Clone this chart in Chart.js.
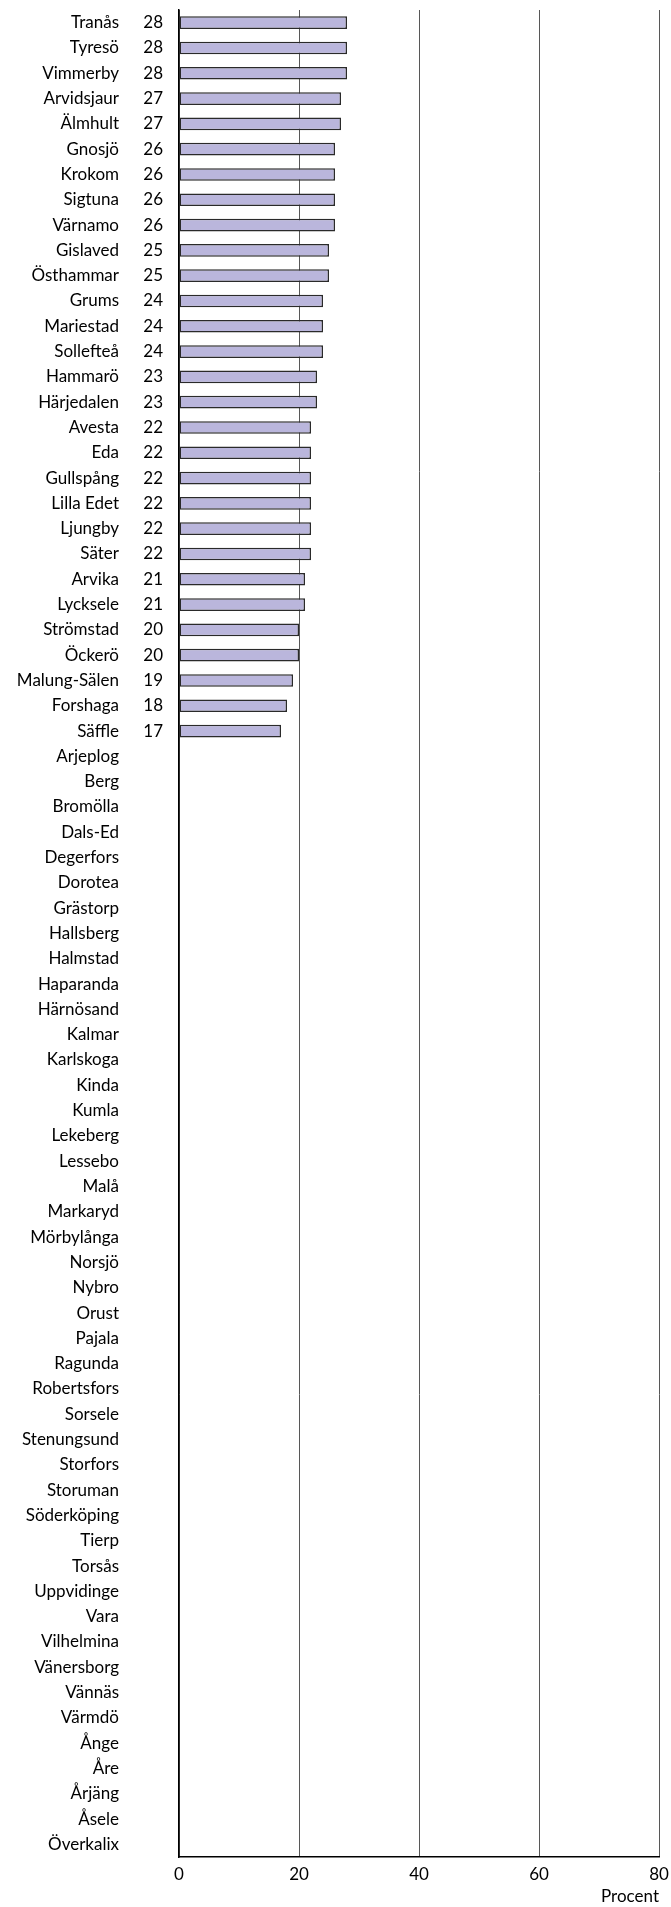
<!DOCTYPE html>
<html>
<head>
<meta charset="utf-8">
<script src="https://cdn.jsdelivr.net/npm/chart.js@4"></script>
<style>
html,body{margin:0;padding:0;background:#fff;}
#wrap{width:671px;height:1907px;}
</style>
</head>
<body>
<div id="wrap"><canvas id="c" width="671" height="1907"></canvas></div>
<script>
const categories = ["Tranås","Tyresö","Vimmerby","Arvidsjaur","Älmhult","Gnosjö","Krokom","Sigtuna","Värnamo","Gislaved","Östhammar","Grums","Mariestad","Sollefteå","Hammarö","Härjedalen","Avesta","Eda","Gullspång","Lilla Edet","Ljungby","Säter","Arvika","Lycksele","Strömstad","Öckerö","Malung-Sälen","Forshaga","Säffle","Arjeplog","Berg","Bromölla","Dals-Ed","Degerfors","Dorotea","Grästorp","Hallsberg","Halmstad","Haparanda","Härnösand","Kalmar","Karlskoga","Kinda","Kumla","Lekeberg","Lessebo","Malå","Markaryd","Mörbylånga","Norsjö","Nybro","Orust","Pajala","Ragunda","Robertsfors","Sorsele","Stenungsund","Storfors","Storuman","Söderköping","Tierp","Torsås","Uppvidinge","Vara","Vilhelmina","Vänersborg","Vännäs","Värmdö","Ånge","Åre","Årjäng","Åsele","Överkalix"];
const values = [28,28,28,27,27,26,26,26,26,25,25,24,24,24,23,23,22,22,22,22,22,22,21,21,20,20,19,18,17,
  null,null,null,null,null,null,null,null,null,null,null,null,null,null,null,null,null,null,null,null,null,null,null,null,null,null,null,null,null,null,null,null,null,null,null,null,null,null,null,null,null,null,null,null];
const xTicks = [0,20,40,60,80];
const axisTitle = "Procent";

const FONT = "Lato, 'Open Sans', sans-serif";
const FSIZE = 17;

const valueLabelPlugin = {
  id: 'valueLabels',
  afterDraw(chart) {
    const ctx = chart.ctx;
    const y = chart.scales.y;
    ctx.save();
    ctx.font = FSIZE + "px " + FONT;
    ctx.fillStyle = "#000";
    ctx.textAlign = "right";
    ctx.textBaseline = "middle";
    values.forEach((v, i) => {
      if (v === null || v === undefined) return;
      ctx.fillText(String(v), 163, y.getPixelForValue(i));
    });
    ctx.restore();
  }
};

new Chart(document.getElementById('c'), {
  type: 'bar',
  data: {
    labels: categories,
    datasets: [{
      data: values,
      backgroundColor: '#bab6dc',
      borderColor: '#2a2a2a',
      borderWidth: 1.5,
      borderSkipped: false,
      barPercentage: 0.5,
      categoryPercentage: 1.0
    }]
  },
  options: {
    indexAxis: 'y',
    responsive: false,
    animation: false,
    devicePixelRatio: 1,
    layout: { padding: { top: 10, right: 12, left: 0, bottom: 0 } },
    plugins: { legend: { display: false }, tooltip: { enabled: false } },
    scales: {
      x: {
        type: 'linear',
        min: 0, max: 80,
        afterBuildTicks(scale) { scale.ticks = xTicks.map(v => ({ value: v })); },
        ticks: { font: { size: FSIZE, family: FONT }, color: '#000', padding: 7, maxRotation: 0 },
        grid: { color: '#575757', lineWidth: 1, drawTicks: false },
        border: { display: true, color: '#000', width: 1.5 },
        title: { display: true, text: axisTitle, align: 'end', font: { size: FSIZE, family: FONT }, color: '#000', padding: { top: 0, bottom: 0 } },
        afterFit(scale) { scale.height = 50; scale.paddingLeft = 0; scale.paddingRight = 0; }
      },
      y: {
        type: 'category',
        ticks: { font: { size: FSIZE, family: FONT }, color: '#000', padding: 60, autoSkip: false },
        grid: { display: false, drawTicks: false },
        border: { display: true, color: '#000', width: 1.5 },
        afterFit(scale) { scale.width = 179; scale.paddingTop = 0; scale.paddingBottom = 0; }
      }
    }
  },
  plugins: [valueLabelPlugin]
});
</script>
</body>
</html>
